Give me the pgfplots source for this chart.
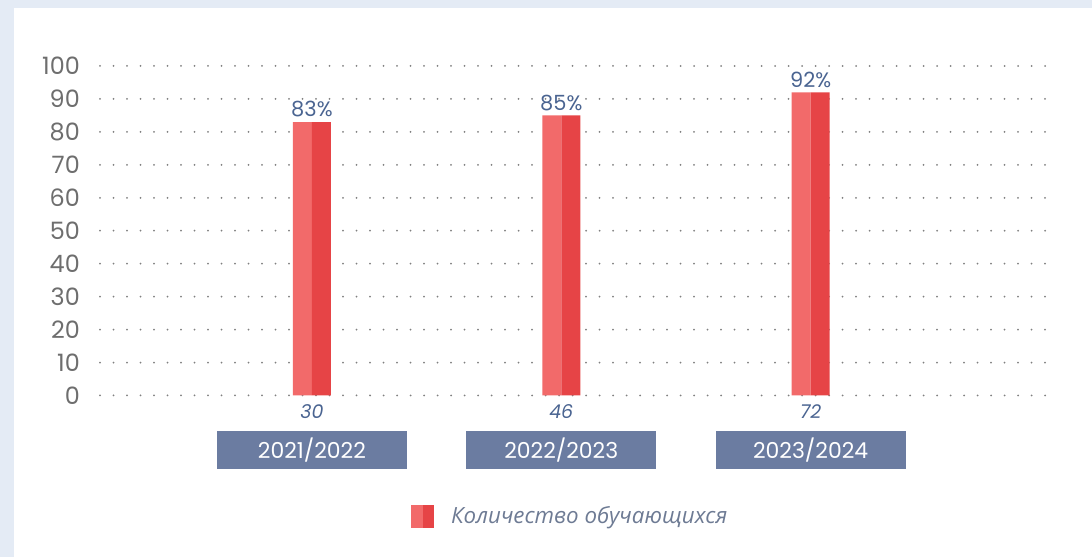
\documentclass[border=0pt]{standalone}
\usepackage{fontspec}
\setmainfont{Poppins}
\newfontfamily\cyr{Open Sans}
\usepackage{pgfplots}
\pgfplotsset{compat=1.18}
\definecolor{bgblue}{HTML}{E4EBF5}
\definecolor{lred}{HTML}{F26A6A}
\definecolor{dred}{HTML}{E64446}
\definecolor{lblue}{HTML}{4A6491}
\definecolor{boxc}{HTML}{6B7CA1}
\definecolor{tickg}{HTML}{6E6E6E}
\definecolor{dotg}{HTML}{808080}
\definecolor{legc}{HTML}{6E7B94}
\begin{document}
\begin{tikzpicture}[x=1bp,y=1bp]
\useasboundingbox (0,0) rectangle (1092,557);
\fill[bgblue] (0,0) rectangle (1092,557);
\fill[white] (14,0) rectangle (1092,549);
\begin{axis}[
  at={(100bp,161.5bp)}, anchor=south west,
  scale only axis, width=950bp, height=329.5bp,
  xmin=-0.85, xmax=2.96, ymin=0, ymax=100,
  axis line style={draw=none}, clip=false,
  ytick={0,10,...,100},
  xtick={0,1,2},
  xticklabels={2021/2022,2022/2023,2023/2024},
  major tick length=0,
  ymajorgrids,
  grid style={dotg, line width=2bp, line cap=round, dash pattern=on 0bp off 13.5bp},
  /pgf/number format/assume math mode=true,
  yticklabel style={anchor=east, inner sep=0pt, xshift=-20bp, font=\fontsize{24}{24}\selectfont, text=tickg},
  xticklabel style={anchor=north, inner sep=0pt, yshift=-35.5bp, fill=boxc, text=white, minimum width=190bp, minimum height=38bp, font=\fontsize{22}{22}\selectfont},
  legend style={at={(0.495,-0.366)}, anchor=center, draw=none, fill=none, font=\cyr\itshape\fontsize{22.4}{23}\selectfont, text=legc, legend cell align=left,
    /tikz/every odd column/.append style={column sep=15bp}},
  legend image code/.code={\fill[lred] (0bp,-11.5bp) rectangle (11.5bp,11.5bp); \fill[dred] (11.5bp,-11.5bp) rectangle (23bp,11.5bp);},
]
\addplot[ybar, bar width=19bp, bar shift=-9.5bp, fill=lred, draw=none] coordinates {(0,83) (1,85) (2,92)};
\addlegendentry{Количество обучающихся}
\addplot[ybar, bar width=19bp, bar shift=9.5bp, fill=dred, draw=none, forget plot] coordinates {(0,83) (1,85) (2,92)};
\addplot[draw=none, mark=none, forget plot, point meta=y,
  nodes near coords={\pgfmathprintnumber{\pgfplotspointmeta}\%},
  nodes near coords style={anchor=south, inner sep=0pt, yshift=4.5bp, text=lblue, font=\fontsize{21}{21}\selectfont, /pgf/number format/assume math mode=true}] coordinates {(0,83) (1,85) (2,92)};
\addplot[draw=none, mark=none, forget plot, point meta=explicit symbolic,
  nodes near coords,
  nodes near coords style={anchor=north, inner sep=0pt, yshift=-9bp, text=lblue, font=\itshape\fontsize{19}{19}\selectfont}] table[meta=n] {
x y n
0 0 30
1 0 46
2 0 72
};
\end{axis}
\end{tikzpicture}
\end{document}
